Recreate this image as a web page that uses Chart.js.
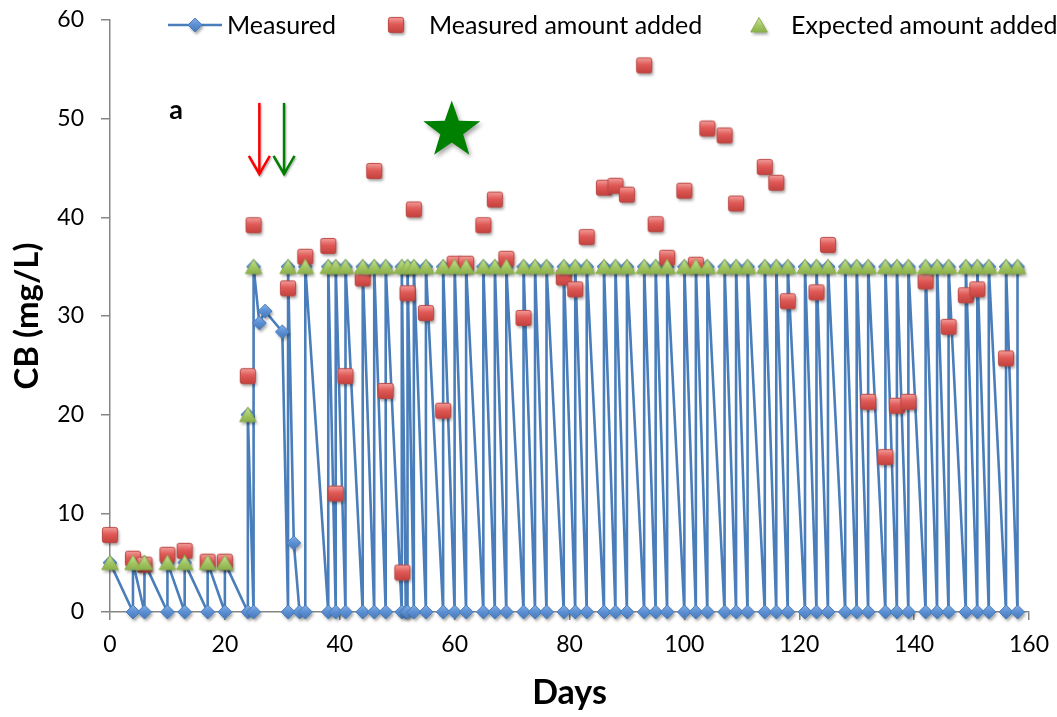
<!DOCTYPE html>
<html>
<head>
<meta charset="utf-8">
<title>CB concentration over time</title>
<script src="https://cdn.jsdelivr.net/npm/chart.js@4.4.0/dist/chart.umd.min.js"></script>
<style>
  html, body { margin: 0; padding: 0; background: #ffffff; }
  #wrap { width: 1057px; height: 717px; position: relative; }
</style>
</head>
<body>
<div id="wrap"><canvas id="chart" width="1057" height="717"></canvas></div>
<script>
// ---- Measured CB concentration (residual before feeding, then after feeding) ----
const measuredDays = [
  0,
  4, 4, 6, 6, 10, 10, 13, 13, 17, 17, 20, 20,
  24, 24, 25, 25, 26, 27, 30,
  31, 31, 32, 33, 34, 34,
  38, 38, 39.3, 39.3, 41, 41, 44, 44, 46, 46, 48, 48,
  50.8, 50.8, 51.5, 51.8, 51.8, 52.9, 52.9,
  55, 55, 58, 58, 60, 60, 62, 62, 65, 65, 67, 67, 69, 69,
  72, 72, 74, 74, 76, 76, 79, 79, 81, 81, 83, 83,
  86, 86, 88, 88, 90, 90, 93, 93, 95, 95, 97, 97,
  100, 100, 102, 102, 104, 104, 107, 107, 109, 109, 111, 111,
  114, 114, 116, 116, 118, 118, 121, 121, 123, 123, 125, 125,
  128, 128, 130, 130, 132, 132, 135, 135, 137, 137, 139, 139,
  142, 142, 144, 144, 146, 146, 149, 149, 151, 151, 153, 153,
  156, 156, 158, 158
];
const measuredValues = [
  5,
  0, 5, 0, 5, 0, 5, 0, 5, 0, 5, 0, 5,
  0, 20, 0, 35, 29.3, 30.5, 28.4,
  0, 35, 7.0, 0, 0, 35,
  0, 35, 0, 35, 0, 35, 0, 35, 0, 35, 0, 35,
  0, 35, 0, 0, 35, 0, 35,
  0, 35, 0, 35, 0, 35, 0, 35, 0, 35, 0, 35, 0, 35,
  0, 35, 0, 35, 0, 35, 0, 35, 0, 35, 0, 35,
  0, 35, 0, 35, 0, 35, 0, 35, 0, 35, 0, 35,
  0, 35, 0, 35, 0, 35, 0, 35, 0, 35, 0, 35,
  0, 35, 0, 35, 0, 35, 0, 35, 0, 35, 0, 35,
  0, 35, 0, 35, 0, 35, 0, 35, 0, 35, 0, 35,
  0, 35, 0, 35, 0, 35, 0, 35, 0, 35, 0, 35,
  0, 35, 0, 35
];

// ---- Measured amount added at each feeding ----
const addedDays = [
  0, 4, 6, 10, 13, 17, 20, 24, 25, 31, 34, 38, 39.3, 41, 44, 46, 48,
  50.9, 51.8, 52.9, 55, 58, 60, 62, 65, 67, 69, 72, 79, 81, 83,
  86, 88, 90, 93, 95, 97, 100, 102, 104, 107, 109, 114, 116, 118,
  123, 125, 132, 135, 137, 139, 142, 146, 149, 151, 156
];
const addedValues = [
  7.8, 5.4, 4.8, 5.8, 6.2, 5.1, 5.1, 23.9, 39.2, 32.8, 36.0, 37.1, 12.0, 23.9, 33.8, 44.7, 22.4,
  4.0, 32.3, 40.8, 30.3, 20.4, 35.3, 35.3, 39.2, 41.8, 35.8, 29.8, 33.9, 32.7, 38.0,
  43.0, 43.2, 42.3, 55.4, 39.3, 35.9, 42.7, 35.2, 49.0, 48.3, 41.4, 45.1, 43.5, 31.5,
  32.4, 37.2, 21.3, 15.7, 20.9, 21.3, 33.5, 28.9, 32.1, 32.7, 25.7
];

// ---- Expected (nominal) amount added at each feeding ----
const expectedDays = [
  0, 4, 6, 10, 13, 17, 20, 24, 25, 31, 34, 38, 39.3, 41, 44, 46, 48,
  50.8, 51.8, 52.9, 55, 58, 60, 62, 65, 67, 69, 72, 74, 76, 79, 81, 83,
  86, 88, 90, 93, 95, 97, 100, 102, 104, 107, 109, 111, 114, 116, 118,
  121, 123, 125, 128, 130, 132, 135, 137, 139, 142, 144, 146, 149, 151, 153, 156, 158
];
const expectedValues = [
  5, 5, 5, 5, 5, 5, 5, 20, 35, 35, 35, 35, 35, 35, 35, 35, 35,
  35, 35, 35, 35, 35, 35, 35, 35, 35, 35, 35, 35, 35, 35, 35, 35,
  35, 35, 35, 35, 35, 35, 35, 35, 35, 35, 35, 35, 35, 35, 35,
  35, 35, 35, 35, 35, 35, 35, 35, 35, 35, 35, 35, 35, 35, 35, 35, 35
];

// ---- Axis ticks ----
const xTicks = [0, 20, 40, 60, 80, 100, 120, 140, 160];
const yTicks = [0, 10, 20, 30, 40, 50, 60];

const seriesNames = ['Measured', 'Measured amount added', 'Expected amount added'];

// ---- Annotations on the plot (day / concentration units) ----
const panelLabel = { text: 'a', day: 11.5, value: 50.8 };
const eventArrows = [
  { day: 26.0, color: '#ff0000' },
  { day: 30.3, color: '#008000' }
];
const arrowSpan = { from: 51.6, to: 44.4 };
const starMark = { day: 59.5, value: 48.8 };

const FONT = 'Lato, "Open Sans", sans-serif';

// Office-style marker sprites with a soft drop shadow
function makeMarker(kind) {
  const c = document.createElement('canvas');
  c.width = 30; c.height = 30;
  const g = c.getContext('2d');
  const cx = 15, cy = 15;
  const path = () => {
    g.beginPath();
    if (kind === 'diamond') {
      g.moveTo(cx, cy - 7); g.lineTo(cx + 7, cy); g.lineTo(cx, cy + 7); g.lineTo(cx - 7, cy); g.closePath();
    } else if (kind === 'square') {
      const h = 7.6, r = 2.2;
      g.moveTo(cx - h + r, cy - h);
      g.arcTo(cx + h, cy - h, cx + h, cy + h, r);
      g.arcTo(cx + h, cy + h, cx - h, cy + h, r);
      g.arcTo(cx - h, cy + h, cx - h, cy - h, r);
      g.arcTo(cx - h, cy - h, cx + h, cy - h, r);
      g.closePath();
    } else {
      g.moveTo(cx, cy - 7.5); g.lineTo(cx + 8.3, cy + 7); g.lineTo(cx - 8.3, cy + 7); g.closePath();
    }
  };
  let grad = g.createLinearGradient(0, cy - 8, 0, cy + 8);
  let stroke;
  if (kind === 'diamond') {
    grad.addColorStop(0, '#8db3e6'); grad.addColorStop(0.5, '#5b8fd3'); grad.addColorStop(1, '#4576b5');
    stroke = '#4a7ebb';
  } else if (kind === 'square') {
    grad.addColorStop(0, '#f3a19e'); grad.addColorStop(0.45, '#e05a57'); grad.addColorStop(1, '#c2403d');
    stroke = '#b94744';
  } else {
    grad.addColorStop(0, '#cfe6a4'); grad.addColorStop(0.5, '#a5c866'); grad.addColorStop(1, '#86ab46');
    stroke = '#8cb050';
  }
  g.save();
  g.shadowColor = 'rgba(0,0,0,0.35)';
  g.shadowBlur = 3; g.shadowOffsetX = 1.5; g.shadowOffsetY = 2.5;
  path(); g.fillStyle = grad; g.fill();
  g.restore();
  path(); g.lineWidth = 1; g.strokeStyle = stroke; g.stroke();
  return c;
}
const diamondImg = makeMarker('diamond');
const squareImg = makeMarker('square');
const triangleImg = makeMarker('triangle');

const toPoints = (xs, ys) => xs.map((x, i) => ({ x: x, y: ys[i] }));

// Custom legend drawn across the top of the plot
const topLegend = {
  id: 'topLegend',
  afterDraw(chart) {
    const ctx = chart.ctx;
    const y = 25;
    ctx.save();
    ctx.font = '25px ' + FONT;
    ctx.fillStyle = '#000';
    ctx.textBaseline = 'middle';
    ctx.textAlign = 'left';
    // Measured: line + diamond
    ctx.strokeStyle = '#4a7ebb'; ctx.lineWidth = 2.5;
    ctx.beginPath(); ctx.moveTo(168, y); ctx.lineTo(222, y); ctx.stroke();
    ctx.drawImage(diamondImg, 195 - 15, y - 15);
    ctx.fillText(seriesNames[0], 227, y + 1);
    ctx.drawImage(squareImg, 396 - 15, y - 15);
    ctx.fillText(seriesNames[1], 429, y + 1);
    ctx.drawImage(triangleImg, 759 - 15, y - 15);
    ctx.fillText(seriesNames[2], 791, y + 1);
    ctx.restore();
  }
};

// Panel letter, event arrows and star marker
const plotDecor = {
  id: 'plotDecor',
  afterDatasetsDraw(chart) {
    const ctx = chart.ctx;
    const xs = chart.scales.x, ys = chart.scales.y;
    ctx.save();
    // panel letter
    ctx.font = 'bold 27px ' + FONT;
    ctx.fillStyle = '#000';
    ctx.textAlign = 'center';
    ctx.textBaseline = 'middle';
    ctx.fillText(panelLabel.text, xs.getPixelForValue(panelLabel.day), ys.getPixelForValue(panelLabel.value));
    // arrows
    eventArrows.forEach(a => {
      const x = xs.getPixelForValue(a.day);
      const y0 = ys.getPixelForValue(arrowSpan.from);
      const y1 = ys.getPixelForValue(arrowSpan.to);
      ctx.save();
      ctx.shadowColor = 'rgba(0,0,0,0.3)';
      ctx.shadowBlur = 2; ctx.shadowOffsetX = 1; ctx.shadowOffsetY = 1.5;
      ctx.strokeStyle = a.color;
      ctx.lineWidth = 2.5;
      ctx.lineCap = 'butt';
      ctx.beginPath(); ctx.moveTo(x, y0); ctx.lineTo(x, y1 - 1); ctx.stroke();
      ctx.beginPath();
      ctx.moveTo(x - 10.5, y1 - 18); ctx.lineTo(x, y1); ctx.lineTo(x + 10.5, y1 - 18);
      ctx.stroke();
      ctx.restore();
    });
    // star
    const sx = xs.getPixelForValue(starMark.day);
    const sy = ys.getPixelForValue(starMark.value);
    const R = 30, r = 12;
    ctx.save();
    ctx.shadowColor = 'rgba(0,0,0,0.35)';
    ctx.shadowBlur = 4; ctx.shadowOffsetX = 2; ctx.shadowOffsetY = 3;
    ctx.beginPath();
    for (let i = 0; i < 10; i++) {
      const ang = -Math.PI / 2 + i * Math.PI / 5;
      const rr = i % 2 === 0 ? R : r;
      const px = sx + rr * Math.cos(ang), py = sy + rr * Math.sin(ang);
      if (i === 0) ctx.moveTo(px, py); else ctx.lineTo(px, py);
    }
    ctx.closePath();
    ctx.fillStyle = '#008000';
    ctx.fill();
    ctx.restore();
    ctx.restore();
  }
};

const axisGray = '#868686';

new Chart(document.getElementById('chart'), {
  type: 'scatter',
  data: {
    datasets: [
      {
        label: seriesNames[0],
        data: toPoints(measuredDays, measuredValues),
        showLine: true,
        borderColor: '#4a7ebb',
        borderWidth: 2.6,
        borderJoinStyle: 'round',
        tension: 0,
        pointStyle: diamondImg,
        pointRadius: 7,
        clip: false,
        order: 3
      },
      {
        label: seriesNames[1],
        data: toPoints(addedDays, addedValues),
        showLine: false,
        pointStyle: squareImg,
        pointRadius: 8,
        clip: false,
        order: 2
      },
      {
        label: seriesNames[2],
        data: toPoints(expectedDays, expectedValues),
        showLine: false,
        pointStyle: triangleImg,
        pointRadius: 8,
        clip: false,
        order: 1
      }
    ]
  },
  options: {
    responsive: false,
    animation: false,
    devicePixelRatio: 1,
    layout: { padding: { top: 20, right: 28, bottom: 0, left: 0 } },
    plugins: {
      legend: { display: false },
      tooltip: { enabled: false }
    },
    scales: {
      x: {
        type: 'linear',
        min: xTicks[0],
        max: xTicks[xTicks.length - 1],
        afterBuildTicks: s => { s.ticks = xTicks.map(v => ({ value: v })); },
        afterFit: s => { s.height = 105; s.paddingLeft = 0; s.paddingRight = 0; },
        ticks: { font: { family: FONT, size: 23 }, color: '#000', padding: 11, maxRotation: 0 },
        grid: { drawOnChartArea: false, drawTicks: true, tickLength: 8, color: axisGray, lineWidth: 1.5 },
        border: { color: axisGray, width: 1.5 },
        title: { display: true, text: 'Days', color: '#000',
                 font: { family: FONT, size: 34, weight: 'bold' }, padding: { top: 0, bottom: 4 } }
      },
      y: {
        type: 'linear',
        min: yTicks[0],
        max: yTicks[yTicks.length - 1],
        afterBuildTicks: s => { s.ticks = yTicks.map(v => ({ value: v })); },
        afterFit: s => { s.width = 110; s.paddingTop = 0; s.paddingBottom = 0; },
        ticks: { font: { family: FONT, size: 23 }, color: '#000', padding: 17 },
        grid: { drawOnChartArea: false, drawTicks: true, tickLength: 9, color: axisGray, lineWidth: 1.5 },
        border: { color: axisGray, width: 1.5 },
        title: { display: true, text: 'CB (mg/L)', color: '#000',
                 font: { family: FONT, size: 33, weight: 'bold' }, padding: { top: 8, bottom: 0 } }
      }
    }
  },
  plugins: [topLegend, plotDecor]
});
</script>
</body>
</html>
